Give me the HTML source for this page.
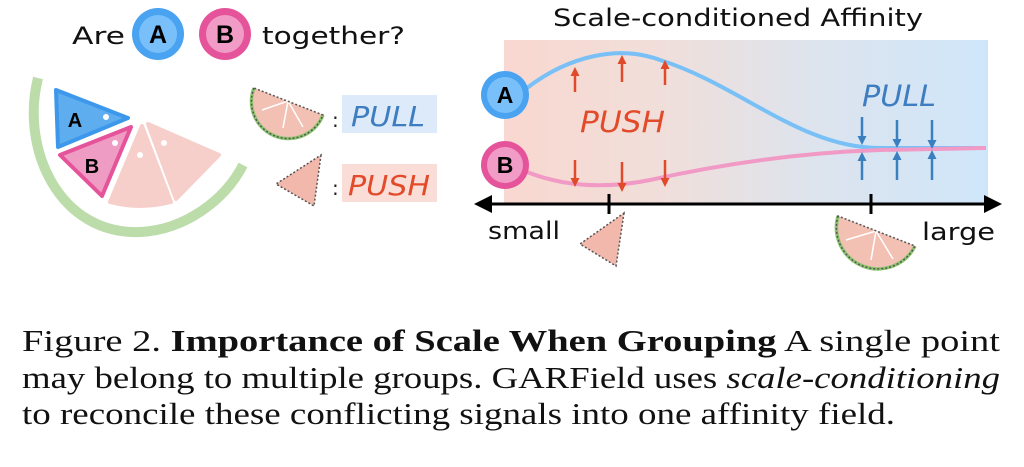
<!DOCTYPE html>
<html><head><meta charset="utf-8"><style>
html,body{margin:0;padding:0;background:#fff;}
svg{display:block;}
</style></head><body>
<svg width="1024" height="467" viewBox="0 0 1024 467" xmlns="http://www.w3.org/2000/svg" font-family="'DejaVu Sans','Liberation Sans',sans-serif">
<defs>
<linearGradient id="bg" x1="0" x2="1" y1="0" y2="0">
<stop offset="0" stop-color="#f8d8d0"/>
<stop offset="0.3" stop-color="#f2ded9"/>
<stop offset="0.65" stop-color="#dde4ee"/>
<stop offset="1" stop-color="#cfe6fa"/>
</linearGradient>
<marker id="ar" markerWidth="9" markerHeight="9" refX="4" refY="4.5" orient="auto" markerUnits="userSpaceOnUse"><path d="M0,0 L9,4.5 L0,9z" fill="#e04a2a"/></marker>
<marker id="ab" markerWidth="9" markerHeight="9" refX="4" refY="4.5" orient="auto" markerUnits="userSpaceOnUse"><path d="M0,0 L9,4.5 L0,9z" fill="#3a7fc0"/></marker>
</defs>

<!-- top-left question -->
<text x="72" y="44" font-size="24" fill="#111" textLength="53" lengthAdjust="spacingAndGlyphs">Are</text>
<circle cx="158" cy="34" r="26" fill="#4aa3f0"/><circle cx="158" cy="34" r="19" fill="#79c0fa"/>
<text x="158" y="43" font-size="25" font-weight="bold" text-anchor="middle" fill="#000" font-family="'Liberation Sans',sans-serif">A</text>
<circle cx="225" cy="34" r="26" fill="#e5549a"/><circle cx="225" cy="34" r="19" fill="#f19cc6"/>
<text x="225" y="43" font-size="25" font-weight="bold" text-anchor="middle" fill="#000" font-family="'Liberation Sans',sans-serif">B</text>
<text x="262" y="44" font-size="24" fill="#111" textLength="143" lengthAdjust="spacingAndGlyphs">together?</text>

<!-- lime -->
<path d="M38,78 C20,150 60,235 140,232 C185,230 225,200 243,165" fill="none" stroke="#bcdcaa" stroke-width="10"/>
<path d="M56,90 L128,118 L58,147 Z" fill="#5eaeef" stroke="#3d98ec" stroke-width="4" stroke-linejoin="round"/>
<text x="75" y="127" font-size="20" font-weight="bold" text-anchor="middle" font-family="'Liberation Sans',sans-serif">A</text>
<circle cx="106" cy="117" r="3" fill="#fff"/>
<path d="M60,155 L131,127 L102,196 Z" fill="#ef9cc4" stroke="#e5549a" stroke-width="4" stroke-linejoin="round"/>
<text x="92" y="173" font-size="20" font-weight="bold" text-anchor="middle" font-family="'Liberation Sans',sans-serif">B</text>
<circle cx="115" cy="143" r="3" fill="#fff"/>
<path d="M142,126 L171,202 Q140,210 110,202 Z" fill="#f6cfca" stroke="#f6cfca" stroke-width="4" stroke-linejoin="round"/>
<path d="M148,124 L219,155 L176,199 Z" fill="#f6cfca" stroke="#f6cfca" stroke-width="4" stroke-linejoin="round"/>
<circle cx="140" cy="155" r="3" fill="#fff"/><circle cx="164" cy="143" r="3" fill="#fff"/>

<!-- legend -->
<path d="M254,88 A37,37 0 0 0 323,115 Z" fill="#f3c0b4"/>
<path d="M288,101 L283,128 M288,101 L303,127 M288,101 L262,110" stroke="#fff" stroke-width="1.5"/>
<path d="M254,88 A37,37 0 0 0 323,115" fill="none" stroke="#8cc56f" stroke-width="3.5"/>
<path d="M254,88 A37,37 0 0 0 323,115 Z" fill="none" stroke="#555" stroke-width="1.5" stroke-dasharray="2,2"/>
<text x="332" y="127" font-size="20" fill="#222">:</text>
<rect x="342" y="95" width="95" height="38" fill="#dceafa"/>
<text x="351" y="126" font-size="28" font-style="italic" fill="#3d7dc0" textLength="74" lengthAdjust="spacingAndGlyphs">PULL</text>
<path d="M321,155 L314,206 L276,184 Z" fill="#f2b8ab" stroke="#555" stroke-width="1.5" stroke-dasharray="2,2"/>
<text x="332" y="195" font-size="20" fill="#222">:</text>
<rect x="342" y="164" width="95" height="38" fill="#f9ddd6"/>
<text x="348" y="195" font-size="28" font-style="italic" fill="#e24a2a" textLength="82" lengthAdjust="spacingAndGlyphs">PUSH</text>

<!-- right chart -->
<text x="553" y="26" font-size="24" fill="#111" textLength="370" lengthAdjust="spacingAndGlyphs">Scale-conditioned Affinity</text>
<rect x="504" y="40" width="484" height="165" fill="url(#bg)"/>
<path d="M527,88 C570,55 620,45 660,60 C740,85 800,148 880,148 L986,148" fill="none" stroke="#78c0f6" stroke-width="4"/>
<path d="M527,172 C560,185 600,190 650,180 C740,160 820,152 880,150 L986,148" fill="none" stroke="#f09ac5" stroke-width="4"/>
<circle cx="505" cy="95" r="24" fill="#4aa3f0"/><circle cx="505" cy="95" r="18" fill="#79c0fa"/>
<text x="505" y="103" font-size="23" font-weight="bold" text-anchor="middle" font-family="'Liberation Sans',sans-serif">A</text>
<circle cx="505" cy="165" r="24" fill="#e5549a"/><circle cx="505" cy="165" r="18" fill="#f19cc6"/>
<text x="505" y="173" font-size="23" font-weight="bold" text-anchor="middle" font-family="'Liberation Sans',sans-serif">B</text>
<g stroke="#e04a2a" stroke-width="2.5" marker-end="url(#ar)">
<line x1="575" y1="92" x2="575" y2="72"/><line x1="622" y1="82" x2="622" y2="60"/><line x1="665" y1="85" x2="665" y2="65"/>
<line x1="575" y1="160" x2="575" y2="182"/><line x1="622" y1="162" x2="622" y2="187"/><line x1="665" y1="160" x2="665" y2="182"/>
</g>
<text x="580" y="132" font-size="29" font-style="italic" fill="#e24a2a" textLength="85" lengthAdjust="spacingAndGlyphs">PUSH</text>
<text x="862" y="106" font-size="29" font-style="italic" fill="#3d7dc0" textLength="74" lengthAdjust="spacingAndGlyphs">PULL</text>
<g stroke="#3a7fc0" stroke-width="2.5" marker-end="url(#ab)">
<line x1="862" y1="117" x2="862" y2="140"/><line x1="897" y1="120" x2="897" y2="143"/><line x1="932" y1="120" x2="932" y2="144"/>
<line x1="862" y1="180" x2="862" y2="157"/><line x1="897" y1="180" x2="897" y2="156"/><line x1="932" y1="180" x2="932" y2="155"/>
</g>
<!-- axis -->
<line x1="485" y1="204" x2="990" y2="204" stroke="#000" stroke-width="3"/>
<path d="M474,204 L492,195 L492,213 Z" fill="#000"/>
<path d="M1002,204 L984,195 L984,213 Z" fill="#000"/>
<line x1="609" y1="194" x2="609" y2="214" stroke="#000" stroke-width="3"/>
<line x1="871" y1="194" x2="871" y2="214" stroke="#000" stroke-width="3"/>
<text x="488" y="239" font-size="24" fill="#111" textLength="72" lengthAdjust="spacingAndGlyphs">small</text>
<text x="922" y="240" font-size="24" fill="#111" textLength="73" lengthAdjust="spacingAndGlyphs">large</text>
<path d="M624,213 L616,266 L580,244 Z" fill="#f2b8ab" stroke="#555" stroke-width="1.5" stroke-dasharray="2,2"/>
<path d="M838,216 A41.5,41.5 0 0 0 915,246 Z" fill="#f3c0b4"/>
<path d="M876,231 L871,260 M876,231 L893,259 M876,231 L846,240" stroke="#fff" stroke-width="1.5"/>
<path d="M838,216 A41.5,41.5 0 0 0 915,246" fill="none" stroke="#8cc56f" stroke-width="3.5"/>
<path d="M838,216 A41.5,41.5 0 0 0 915,246 Z" fill="none" stroke="#555" stroke-width="1.5" stroke-dasharray="2,2"/>

<!-- caption -->
<g font-family="'Liberation Serif',serif" font-size="31" fill="#111">
<text x="22" y="351" textLength="978" lengthAdjust="spacingAndGlyphs">Figure 2.  <tspan font-weight="bold">Importance of Scale When Grouping</tspan> A single point</text>
<text x="22" y="388" textLength="978" lengthAdjust="spacingAndGlyphs">may belong to multiple groups. GARField uses <tspan font-style="italic">scale-conditioning</tspan></text>
<text x="22" y="424" textLength="873" lengthAdjust="spacingAndGlyphs">to reconcile these conflicting signals into one affinity field.</text>
</g>
</svg>
</body></html>
